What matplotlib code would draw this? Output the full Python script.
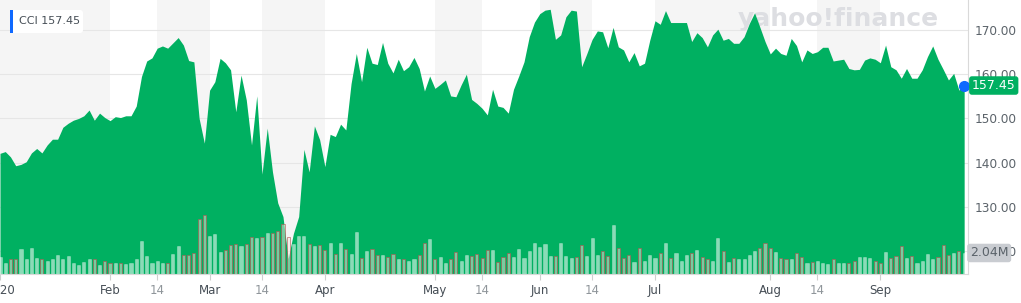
import matplotlib
matplotlib.use("Agg")
import matplotlib.pyplot as plt
import matplotlib.transforms as mtrans
from matplotlib.patches import FancyBboxPatch, Rectangle
import numpy as np

# daily close, Jan 2 - Sep 24 2020
price = [142.1, 142.5, 141.3, 139.3, 139.6, 140.2, 142.2, 143.2, 142.2, 144.0,
         145.3, 145.3, 148.0, 148.9, 149.6, 150.0, 150.6, 151.9, 149.6, 151.2,
         150.2, 149.5, 150.4, 150.2, 150.6, 150.6, 152.8, 159.5, 163.0, 163.7,
         165.9, 166.4, 165.9, 167.1, 168.3, 166.6, 163.1, 162.8, 150.0, 144.4,
         156.4, 158.3, 163.6, 162.6, 161.0, 151.5, 159.8, 154.2, 144.0, 155.1,
         137.4, 147.8, 137.9, 130.9, 127.8, 118.3, 124.0, 127.8, 143.0, 137.9,
         148.3, 145.2, 139.1, 146.4, 145.9, 148.7, 147.4, 157.9, 164.7, 158.3,
         166.1, 162.5, 162.2, 167.2, 162.5, 160.3, 163.4, 160.8, 161.7, 163.8,
         161.3, 156.2, 159.6, 156.8, 157.7, 158.7, 155.1, 154.9, 157.6, 160.0,
         154.3, 153.4, 152.3, 150.8, 156.6, 152.8, 152.5, 151.2, 156.6, 159.6,
         162.8, 168.5, 171.8, 173.7, 174.5, 174.7, 167.9, 168.9, 173.0, 174.5,
         174.3, 161.7, 164.7, 167.9, 169.8, 169.6, 166.0, 170.6, 166.2, 165.5,
         162.8, 164.9, 161.9, 162.5, 167.7, 172.1, 171.3, 174.4, 171.7, 171.7,
         171.7, 171.7, 167.4, 169.4, 168.3, 166.2, 168.9, 170.2, 167.7, 168.1,
         167.0, 167.0, 168.5, 171.5, 173.9, 170.7, 167.4, 164.6, 165.9, 164.7,
         164.3, 168.1, 166.5, 162.8, 165.5, 164.7, 165.1, 166.1, 166.1, 163.0,
         163.2, 163.4, 161.3, 161.0, 161.1, 163.2, 163.7, 163.4, 162.6, 166.6,
         161.7, 161.0, 159.1, 161.3, 159.1, 159.1, 161.0, 164.0, 166.4, 163.4,
         161.1, 158.7, 160.2, 156.4, 157.45]

# daily volume in millions
volume = [1.62, 1.10, 1.48, 1.48, 2.43, 1.43, 2.49, 1.58, 1.48, 1.29,
          1.43, 1.84, 1.48, 1.75, 1.10, 0.84, 1.19, 1.43, 1.43, 0.84,
          1.23, 1.10, 1.10, 1.10, 0.94, 1.04, 1.48, 3.17, 1.75, 1.10,
          1.29, 1.10, 1.10, 1.94, 2.69, 1.84, 1.84, 2.01, 5.34, 5.69,
          3.72, 3.91, 2.13, 2.33, 2.78, 2.94, 2.69, 2.94, 3.56, 3.49,
          3.56, 4.01, 4.01, 4.20, 4.85, 3.56, 2.88, 3.72, 3.72, 2.94,
          2.69, 2.78, 2.33, 2.98, 1.94,
          2.98, 2.43, 1.94, 4.04, 1.58, 2.23, 2.43, 1.84, 1.84, 1.68,
          1.94, 1.48, 1.43, 1.29, 1.48, 1.84, 2.98, 3.37, 1.43, 1.68,
          1.10, 1.43, 2.13, 1.29, 1.84, 1.75, 1.94, 1.58, 2.33, 2.33,
          1.19, 1.68, 2.01, 1.68, 2.43, 1.58, 2.23, 2.98, 2.59, 2.88,
          1.75, 1.75, 2.98, 1.75, 1.58, 1.68, 2.78, 1.75, 3.46, 1.84,
          2.23, 1.75, 4.75, 2.49, 1.58, 1.84, 1.19, 2.49, 1.29, 1.84,
          1.58, 2.01, 2.98,
          1.58, 2.01, 1.29, 1.84, 2.01, 2.33, 1.68, 1.48, 1.29, 3.46,
          2.23, 1.19, 1.58, 1.43, 1.48, 1.84, 2.23, 2.49, 2.98, 2.49,
          2.13, 1.58, 1.43, 1.48, 2.01, 1.68, 1.04, 1.19, 1.29, 1.10,
          0.94, 1.43, 1.10, 1.04, 1.04, 1.29, 1.68, 1.68, 1.58, 1.29,
          1.04, 2.16, 1.58, 1.75, 2.69, 1.58, 1.75, 1.10, 1.29, 1.94,
          1.48, 1.68, 2.78, 1.84, 2.01, 2.23, 2.04]

tick_pos = [0, 21, 30, 40, 50, 62, 83, 92, 103, 113, 125, 147, 156, 168]
tick_lab = ["2020", "Feb", "14", "Mar", "14", "Apr", "May", "14", "Jun", "14",
            "Jul", "Aug", "14", "Sep"]
price_ticks = [120, 130, 140, 150, 160, 170]
ticker = "CCI"
last_price = 157.45
last_vol = 2.04

GREEN = "#00b061"
BLUE = "#0f69ff"
W, H = 1021, 303

fig = plt.figure(figsize=(W / 100, H / 100), dpi=100)
ax = fig.add_axes([0, 29 / H, 968 / W, 274 / H])
ax2 = ax.twinx()  # volume axis, made first so it doesn't reset the tick side
idx = np.arange(len(price))
xmax = 968 / 5.24
ax.set_xlim(0, xmax)
ax.set_ylim(114.8, 176.8)

# alternating shaded bands between the date ticks
edges = tick_pos + [xmax]
for k in range(len(edges) - 1):
    if k % 2 == 0:
        ax.axvspan(edges[k], edges[k + 1], color="#f5f5f5", lw=0, zorder=0)

ax.set_axisbelow(True)
ax.yaxis.grid(True, color="#e6e6e6", lw=0.8)
ax.text(0.866, 0.93, "yahoo!finance", transform=ax.transAxes, ha="center", va="center",
        fontsize=18, fontweight="bold", color="#dddee2", zorder=0.8)

ax.fill_between(idx, price, 114.8, color=GREEN, lw=0, zorder=1)

# axes styling
ax.set_yticks(price_ticks, [f"{v:.2f}" for v in price_ticks])
ax.yaxis.set_ticks_position("right")
ax.yaxis.set_label_position("right")
ax.tick_params(axis="y", length=0, pad=5, labelsize=8.7, labelcolor="#5b636a",
               labelleft=False, labelright=True)
ax.set_xticks(tick_pos, tick_lab)
ax.tick_params(axis="x", length=4, color="#cfcfcf", pad=3, labelsize=8.5)
for lab in ax.get_xticklabels():
    lab.set_color("#8f959a" if lab.get_text() == "14" else "#464e56")
for s in ["top", "left"]:
    ax.spines[s].set_visible(False)
for s in ["right", "bottom"]:
    ax.spines[s].set_color("#d9d9d9")
    ax.spines[s].set_linewidth(0.8)

# volume bars
ax2.set_ylim(0, 26.6)
ax2.set_axis_off()
chg = np.diff(price, prepend=price[0])
faces = [(1, 1, 1, 0.55) if c >= 0 else (0.95, 0.9, 0.88, 0.5) for c in chg]
edgs = [(1, 1, 1, 0.3) if c >= 0 else (0.7, 0.32, 0.3, 0.7) for c in chg]
ax2.bar(idx, volume, width=0.6, color=faces, edgecolor=edgs, lw=0.6, zorder=2)

# last value markers
ax.plot(idx[-1], last_price, "o", color=BLUE, ms=7, zorder=5, clip_on=False)
bt = mtrans.blended_transform_factory(ax.transAxes, ax.transData)
ax.text(1.004, last_price, f"{last_price:.2f}", transform=bt, ha="left", va="center",
        fontsize=9, color="white", zorder=10, clip_on=False,
        bbox=dict(boxstyle="round,pad=0.22", fc=GREEN, ec="none"))
bt2 = mtrans.blended_transform_factory(ax2.transAxes, ax2.transData)
ax2.text(1.002, last_vol, f"{last_vol:.2f}M", transform=bt2, ha="left", va="center",
         fontsize=9, color="#5b636a", zorder=10, clip_on=False,
         bbox=dict(boxstyle="round,pad=0.22", fc="#c9ccd1", ec="none"))

# ticker badge top left
px = mtrans.IdentityTransform()
fig.add_artist(FancyBboxPatch((10, H - 33), 73, 23, boxstyle="round,pad=0,rounding_size=3",
                              transform=px, fc="white", ec="none"))
fig.add_artist(Rectangle((10, H - 33), 3, 23, transform=px, fc=BLUE, ec="none"))
fig.text(19, H - 21.5, f"{ticker} {last_price:.2f}", transform=px, ha="left", va="center",
         fontsize=8, color="#464e56")

fig.savefig("out.png", dpi=100)
